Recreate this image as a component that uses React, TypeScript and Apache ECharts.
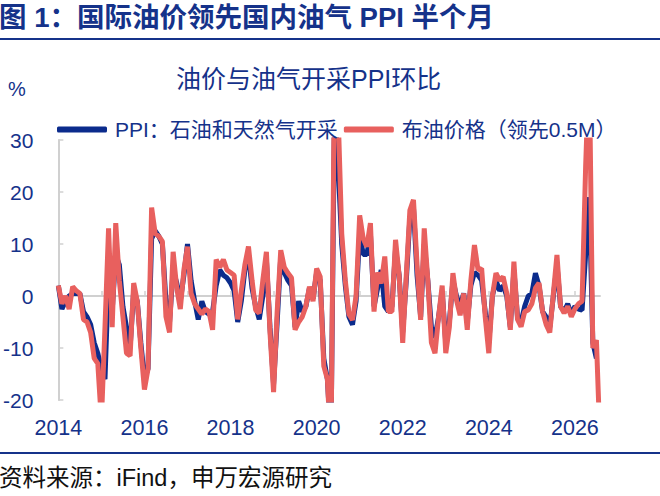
import React, { useEffect, useRef } from "react";
import * as echarts from "echarts";

const startYear = 2014;
const monthCount = 152;
const months: string[] = [];
for (let i = 0; i < monthCount; i++) {
  const y = startYear + Math.floor(i / 12);
  const m = (i % 12) + 1;
  months.push(`${y}-${m < 10 ? "0" + m : m}`);
}

const yTicks = [-20, -10, 0, 10, 20, 30];

const ppiOilGas = [
  2, -2.5, -1, 0, 0.5, 0.5, 0.5, -3, -4, -5.5, -9, -11,
  -14, -16, 4, -3, 8, 6, -2, -6, -10, 1, -1, -9,
  -16, -14, 11, 12.5, 11.5, 10, -1, -5, 5, 2.5, -1, 4,
  10, 3, -1, -4.5, -1, -3, -3.5, -3, 2, 5, 4, 3.5,
  2.5, 1, -5, -1, 5, 8, 1.5, -2, -4.5, 0, 7, -6,
  -17, -5, 7.5, 4.5, 3, 2, -6, -1, -3, -2, 1.5, -0.5,
  4.5, 3, -12, -16, -28, 36, 25, 10, 2, -4, -5.5, -1,
  12, 8, 8, 12, -2, 1.5, 5, -2, -3, -2, 9, 4,
  -7, 3, 15, 17, 4, -4, 10, 3, -6, -8, -4, 1,
  -9, -5, 3, 0, -2, 0.5, -5, 2, 4.5, 4, 3, -3,
  -9, 0, 3, 1, 2, 0, -6, 5, -4, -5, -2, 0,
  0.5, 4.4, 2, -3, -4, -6, 0, 6, -2, -3, -1.5, -3.5,
  -2, -2.5, -2.7, 8, 19, -9, -12,
];

const brentLead = [
  2, -1.5, 0, -2.5, 1.8, 1, 0.5, -4.5, -5, -7, -12, -13,
  -24, -6, 13, -6, 14, 3, -4, -11, -11.5, 2.5, -1, -10,
  -18, -14, 17, 12, 11.5, 10.5, -4, -7, 8.5, 1.5, -2.5, 5,
  9.5, 0.5, -1.5, -2.5, -3.5, -2.5, -3, -6.5, 7, 5.5, 7, 5,
  4.5, 4, -4.5, 1, 6, 9.5, 3, -2.7, -3.3, 3, 8.5, -7,
  -18.5, -3, 8.8, 5.5, 4.4, 3.5, -6.5, -5, -4, -2, 1.8, -1,
  5.3, 3.7, -13.5, -16, -30, 45, 35, 12, 3, -3.5, -4.6, 0,
  15.5, 11, 9.5, 14, -3, 4.5, 2.4, 7.6, -3, -3, 10.8, 4,
  -9, 4, 16.5, 18.5, 6, -4.6, 13, 3, -9, -11, -4, 2,
  -11, -6, 4.4, -0.8, -3.7, 0.5, -6.5, 3, 9.8, 5, 5.3, -4,
  -11, 0, 4.4, 3, 3.7, 0.5, -6.5, 6.6, -4.5, -5.9, -3, -2.7,
  -1.5, 1.5, 2.5, -3, -5.5, -7, 0.5, 7.9, -2, -3.3, -2, -4,
  -2.5, -1.5, -1, 25, 45, -10, -8.5, -28,
];

const NAVY = "#15328a";
const BLUE = "#0b2b8c";
const RED = "#e8605e";
const FONT = "'Liberation Sans', 'Noto Sans CJK SC', sans-serif";

export default function App() {
  const ref = useRef<HTMLDivElement>(null);
  useEffect(() => {
    if (!ref.current) return;
    const chart = echarts.init(ref.current, undefined, { renderer: "svg" });
    chart.setOption({
      animation: false,
      backgroundColor: "#ffffff",
      textStyle: { fontFamily: FONT },
      title: {
        text: "油价与油气开采PPI环比",
        left: 171,
        top: 61,
        textStyle: { color: NAVY, fontSize: 25, fontWeight: "normal", fontFamily: FONT },
      },
      legend: {
        left: 52,
        top: 114,
        itemGap: 6,
        itemWidth: 50,
        itemHeight: 6,
        icon: "roundRect",
        textStyle: { color: NAVY, fontSize: 21, fontFamily: FONT, padding: [0, 0, 0, 3] },
        data: ["PPI：石油和天然气开采", "布油价格（领先0.5M）"],
      },
      graphic: [
        {
          type: "text",
          left: -1,
          top: 4,
          style: {
            text: "图 1：国际油价领先国内油气 PPI 半个月",
            fill: NAVY,
            font: `bold 27.5px ${FONT}`,
          },
        },
        {
          type: "rect",
          shape: { x: 0, y: 38, width: 660, height: 2 },
          style: { fill: NAVY },
        },
        {
          type: "text",
          left: 8,
          top: 79,
          style: { text: "%", fill: NAVY, font: `20px ${FONT}` },
        },
        {
          type: "rect",
          shape: { x: 0, y: 452, width: 660, height: 2 },
          style: { fill: NAVY },
        },
        {
          type: "text",
          left: -1,
          top: 466,
          style: { text: "资料来源：iFind，申万宏源研究", fill: "#111111", font: `23.5px ${FONT}` },
        },
      ],
      grid: { left: 57, right: 60, top: 140, bottom: 96, containLabel: false },
      xAxis: [
        {
          type: "category",
          data: months,
          boundaryGap: false,
          axisLine: { show: false, onZero: false },
          axisTick: { show: false },
          axisLabel: {
            interval: (i: number) => i % 24 === 0,
            formatter: (v: string) => v.slice(0, 4),
            color: NAVY,
            fontSize: 21.5,
            margin: 17,
            fontFamily: FONT,
          },
          splitLine: { show: false },
        },
        {
          type: "category",
          data: months,
          boundaryGap: false,
          position: "bottom",
          axisLine: { show: true, onZero: true, lineStyle: { color: "#d0d0d0", width: 2 } },
          axisTick: {
            show: true,
            inside: true,
            length: 5,
            interval: (i: number) => i % 12 === 0,
            lineStyle: { color: "#d0d0d0", width: 1.5 },
          },
          axisLabel: { show: false },
          splitLine: { show: false },
        },
      ],
      yAxis: {
        type: "value",
        min: -20,
        max: 30,
        interval: 10,
        axisLine: { show: true, lineStyle: { color: "#d0d0d0", width: 2 } },
        axisTick: { show: true, inside: true, length: 5, lineStyle: { color: "#d0d0d0", width: 1.5 } },
        axisLabel: {
          color: NAVY,
          fontSize: 21,
          margin: 25,
          fontFamily: FONT,
          formatter: (v: number) => (yTicks.includes(v) ? String(v) : ""),
        },
        splitLine: { show: false },
      },
      series: [
        {
          name: "PPI：石油和天然气开采",
          type: "line",
          data: ppiOilGas,
          showSymbol: false,
          symbol: "none",
          color: BLUE,
          lineStyle: { color: BLUE, width: 5 },
          clip: true,
          z: 2,
        },
        {
          name: "布油价格（领先0.5M）",
          type: "line",
          data: brentLead,
          showSymbol: false,
          symbol: "none",
          color: RED,
          lineStyle: { color: RED, width: 5 },
          clip: true,
          z: 3,
        },
      ],
    });
    return () => chart.dispose();
  }, []);
  return (
    <div
      ref={ref}
      style={{ position: "fixed", left: 0, top: 0, width: 660, height: 496, background: "#fff" }}
    />
  );
}
